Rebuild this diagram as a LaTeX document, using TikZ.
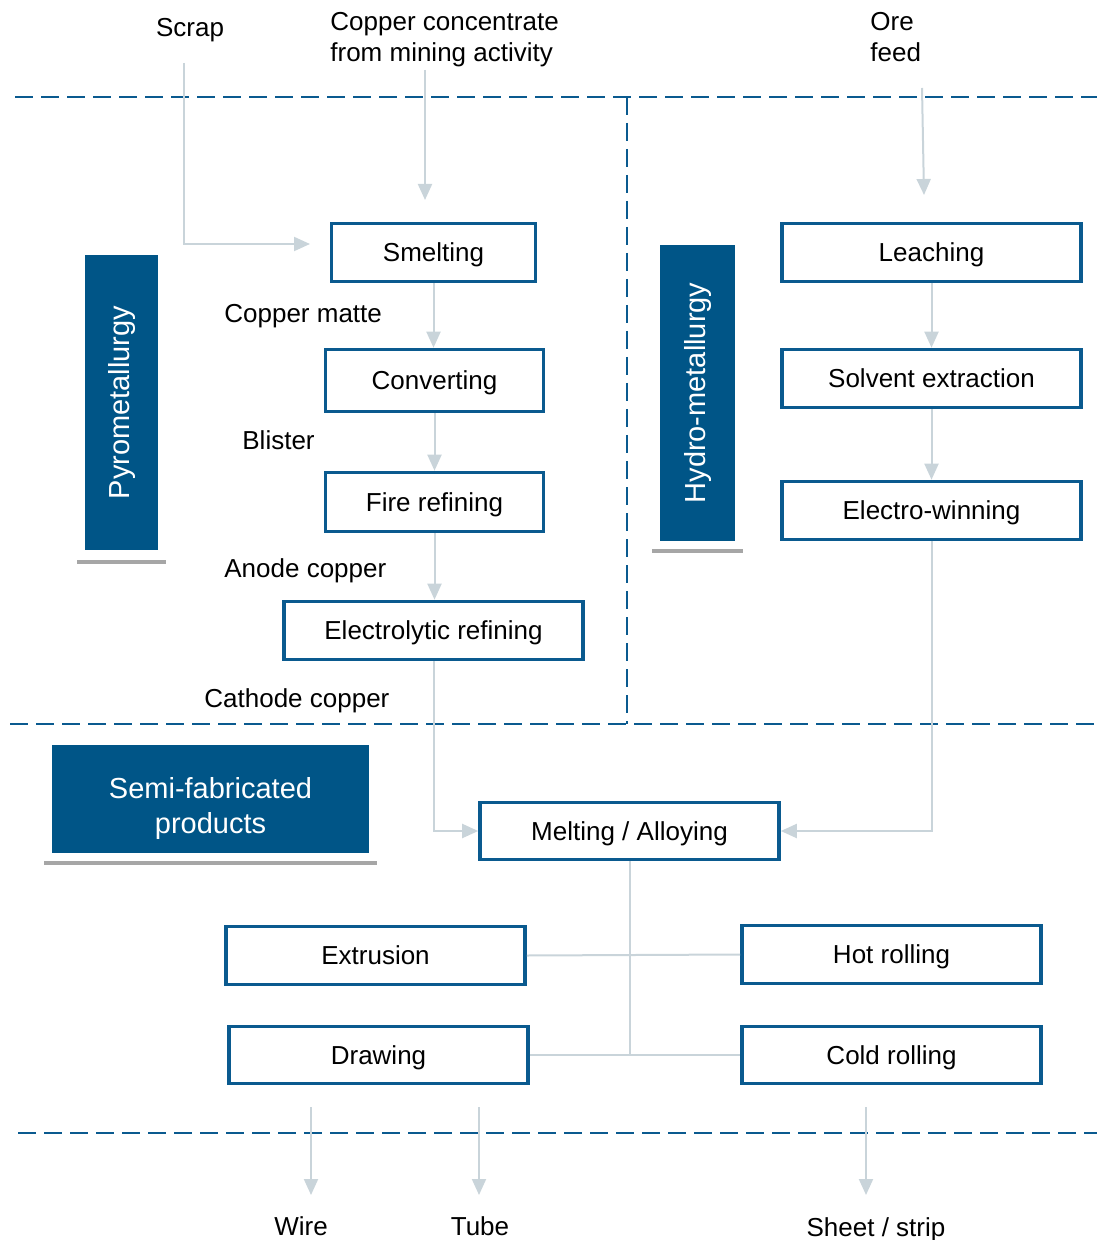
\documentclass[tikz,border=0pt]{standalone}
\usepackage{fontspec}
\setmainfont{Liberation Sans}
\usetikzlibrary{arrows.meta,calc}
\definecolor{boxblue}{HTML}{0A5A8F}
\definecolor{fillblue}{HTML}{005587}
\definecolor{connc}{HTML}{C9D4DA}
\definecolor{underg}{HTML}{A6A6A6}
\tikzset{
  txt/.style={font=\fontsize{13}{15.6}\selectfont, inner sep=0pt, text height=9.3pt, text depth=0pt},
  txtml/.style={font=\fontsize{13}{15.6}\selectfont, inner sep=0pt, align=left},
  procbox/.style={draw=boxblue, line width=1.8pt, fill=white, inner sep=0pt, font=\fontsize{13}{15.6}\selectfont, text height=9.3pt, text depth=0pt, minimum width=149.5pt, minimum height=29pt},
  bluebox/.style={fill=fillblue, text=white, inner sep=0pt, font=\fontsize{14.5}{17.5}\selectfont},
  conn/.style={draw=connc, line width=1pt},
  arr/.style={conn, -{Triangle[width=7pt,length=8pt,color=connc]}},
  sepline/.style={draw=boxblue, line width=1pt, dash pattern=on 9pt off 4pt},
  underline/.style={draw=underg, line width=2pt}
}
\begin{document}
\begin{tikzpicture}[x=0.5pt,y=-0.5pt]
\useasboundingbox (0,0) rectangle (1097,1240);

% separator lines
\draw[sepline] (15,97) -- (1097,97);
\draw[sepline] (627,97) -- (627,724);
\draw[sepline] (10,724) -- (1097,724);
\draw[sepline] (18,1133) -- (1097,1133);

% filled title boxes
\node[bluebox, minimum width=36.5pt, minimum height=147.5pt] (pyro) at (121.5,402.5) {\rotatebox{90}{\raisebox{1.5pt}{Pyrometallurgy}}};
\draw[underline] (77,562) -- (166,562);
\node[bluebox, minimum width=37.5pt, minimum height=148pt] (hydro) at (697.5,393) {\rotatebox{90}{\raisebox{2.5pt}{Hydro-metallurgy}}};
\draw[underline] (652,551) -- (743,551);
\node[bluebox, minimum width=158.5pt, minimum height=54pt, text height=30pt, text depth=13pt] (semi) at (210.5,799) {\begin{tabular}{@{}c@{}}Semi-fabricated\\products\end{tabular}};
\draw[underline] (44,863) -- (377,863);

% process boxes
\node[procbox, minimum width=102pt, minimum height=29pt] (smelt) at (433.5,252.5) {Smelting};
\node[procbox, minimum width=109pt, minimum height=31pt] (conv) at (434.5,380.5) {Converting};
\node[procbox, minimum width=109pt, minimum height=29.5pt] (fire) at (434.5,502) {Fire refining};
\node[procbox] (elec) at (433.5,630.5) {Electrolytic refining};
\node[procbox] (leach) at (931.5,252.5) {Leaching};
\node[procbox] (solv) at (931.5,378.5) {Solvent extraction};
\node[procbox] (ewin) at (931.5,510.5) {Electro-winning};
\node[procbox, minimum height=28.5pt] (melt) at (629.5,831) {Melting / Alloying};
\node[procbox] (extr) at (375.5,955.5) {Extrusion};
\node[procbox] (hot) at (891.5,954.5) {Hot rolling};
\node[procbox, minimum height=28.5pt] (drw) at (378.5,1055) {Drawing};
\node[procbox, minimum height=28.5pt] (cold) at (891.5,1055) {Cold rolling};

% input labels
\node[txt] (scrap) at (190,27) {Scrap};
\node[txtml, anchor=north west] (conc) at (330,12) {Copper concentrate\\from mining activity};
\node[txtml, anchor=north west] (ore) at (870,12) {Ore\\feed};

% intermediate labels
\node[txt, anchor=west] (matte) at (224,313) {Copper matte};
\node[txt, anchor=west] (blister) at (242,440) {Blister};
\node[txt, anchor=west] (anode) at (224,568) {Anode copper};
\node[txt, anchor=west] (cathode) at (204,698) {Cathode copper};

% output labels
\node[txt] (wire) at (301,1226) {Wire};
\node[txt] (tube) at (480,1226) {Tube};
\node[txt] (sheet) at (876,1227) {Sheet / strip};

% coordinates for free ends
\coordinate (scrapTop) at (184,63);
\coordinate (scrapEnd) at (310,244);
\coordinate (concTop) at (425,70);
\coordinate (concEnd) at (425,200);
\coordinate (oreTop) at (922,88);
\coordinate (oreEnd) at (924,195);
\coordinate (wireTop) at (311,1107);
\coordinate (wireEnd) at (311,1195);
\coordinate (tubeTop) at (479,1107);
\coordinate (tubeEnd) at (479,1195);
\coordinate (sheetTop) at (866,1107);
\coordinate (sheetEnd) at (866,1195);

% connectors
\draw[arr] (scrapTop) |- (scrapEnd);
\draw[arr] (concTop) -- (concEnd);
\draw[arr] (oreTop) -- (oreEnd);
\draw[arr] (smelt.south) -- (smelt.south |- conv.north);
\draw[arr] (conv.south) -- (conv.south |- fire.north);
\draw[arr] (fire.south) -- (fire.south |- elec.north);
\draw[arr] (elec.south) |- (melt.west);
\draw[arr] (leach.south) -- (solv.north);
\draw[arr] (solv.south) -- (ewin.north);
\draw[arr] (ewin.south) |- (melt.east);
\draw[conn] (melt.south) -- (melt.south |- drw.east);
\draw[conn] (extr.east) -- (hot.west);
\draw[conn] (drw.east) -- (cold.west);
\draw[arr] (wireTop) -- (wireEnd);
\draw[arr] (tubeTop) -- (tubeEnd);
\draw[arr] (sheetTop) -- (sheetEnd);
\end{tikzpicture}
\end{document}
